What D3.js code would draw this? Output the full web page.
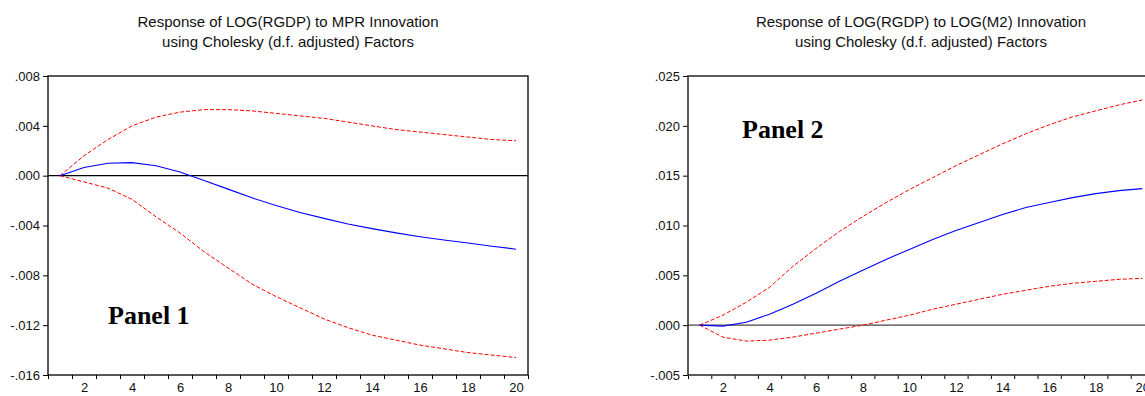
<html>
<meta charset="utf-8">
<title>Impulse responses of LOG(RGDP)</title>
<style>
  body { margin: 0; background: #fff; }
</style>
<div id="chartContainer"></div>
<script src="https://d3js.org/d3.v7.min.js"></script>
<script type="text/javascript">
// periods 1..20
var periods = d3.range(1, 21);

// Panel 1: response to MPR innovation
var mprResponse = [0, 0.00065, 0.00100, 0.00105, 0.00080, 0.00030, -0.00038, -0.00108, -0.00178, -0.00240,
                   -0.00295, -0.00343, -0.00388, -0.00425, -0.00459, -0.00490, -0.00517, -0.00540, -0.00566, -0.00590];
var mprUpper = [0, 0.0016, 0.0029, 0.0040, 0.0047, 0.0051, 0.0053, 0.0053, 0.0052, 0.0050,
                0.0048, 0.0046, 0.0043, 0.0040, 0.0037, 0.0035, 0.0033, 0.0031, 0.0029, 0.0028];
var mprLower = [0, -0.0005, -0.0010, -0.0019, -0.0033, -0.0046, -0.0061, -0.0074, -0.0087, -0.0097,
                -0.0106, -0.0115, -0.0122, -0.0128, -0.0132, -0.0136, -0.0139, -0.0142, -0.0144, -0.0146];
var mprTicks = [0.008, 0.004, 0, -0.004, -0.008, -0.012, -0.016];

// Panel 2: response to LOG(M2) innovation
var m2Response = [0, -0.0001, 0.0003, 0.0011, 0.0021, 0.0032, 0.0044, 0.0055, 0.0066, 0.0076,
                  0.0086, 0.0095, 0.0103, 0.0111, 0.0118, 0.0123, 0.0128, 0.0132, 0.0135, 0.0137];
var m2Upper = [0, 0.0010, 0.0023, 0.0038, 0.0059, 0.0077, 0.0094, 0.0109, 0.0123, 0.0136,
               0.0148, 0.0160, 0.0171, 0.0182, 0.0192, 0.0201, 0.0209, 0.0215, 0.0221, 0.0226];
var m2Lower = [0, -0.0012, -0.0016, -0.0015, -0.0012, -0.0008, -0.0004, 0.0000, 0.0005, 0.0010,
               0.0016, 0.0021, 0.0026, 0.0031, 0.0035, 0.0039, 0.0042, 0.0044, 0.0046, 0.0047];
var m2Ticks = [0.025, 0.020, 0.015, 0.010, 0.005, 0, -0.005];

var xLabels = [2, 4, 6, 8, 10, 12, 14, 16, 18, 20];

var svg = d3.select("#chartContainer").append("svg")
  .attr("width", 1145)
  .attr("height", 396);

function fmt(v) {
  var s = Math.abs(v).toFixed(3).slice(1);
  return (v < 0 ? "-" : "") + s;
}

function drawPanel(p) {
  var top = 76, bottom = 375;
  var x = d3.scaleLinear().domain([0.5, 20.5]).range([p.left, p.right]);
  var y = d3.scaleLinear().domain(d3.extent(p.ticks)).range([bottom, top]);
  var g = svg.append("g");

  // title
  g.append("text")
    .attr("x", (p.left + p.right) / 2)
    .attr("y", 27)
    .style("text-anchor", "middle")
    .style("font-family", "Liberation Sans, Arial")
    .style("font-size", "15px")
    .style("fill", "#111")
    .text(p.title);
  g.append("text")
    .attr("x", (p.left + p.right) / 2)
    .attr("y", 47)
    .style("text-anchor", "middle")
    .style("font-family", "Liberation Sans, Arial")
    .style("font-size", "15px")
    .style("fill", "#111")
    .text("using Cholesky (d.f. adjusted) Factors");

  // y axis
  var yAx = g.append("g")
    .attr("transform", "translate(" + p.left + ",0)")
    .call(d3.axisLeft(y).tickValues(p.ticks).tickSize(5).tickPadding(3).tickFormat(fmt));
  yAx.select(".domain").remove();
  yAx.selectAll("text")
    .style("font-family", "Liberation Sans, Arial")
    .style("font-size", "13px")
    .style("fill", "#111");

  // x ticks at period boundaries, labels at band centres
  var xAx = g.append("g")
    .attr("transform", "translate(0," + bottom + ")")
    .call(d3.axisBottom(x).tickValues(d3.range(0.5, 21, 1)).tickSize(4).tickFormat(""));
  xAx.select(".domain").remove();
  var xLab = g.append("g")
    .attr("transform", "translate(0," + bottom + ")")
    .call(d3.axisBottom(x).tickValues(xLabels).tickSize(0).tickPadding(8));
  xLab.select(".domain").remove();
  xLab.selectAll("text")
    .style("font-family", "Liberation Sans, Arial")
    .style("font-size", "13px")
    .style("fill", "#111");

  // zero line
  g.append("line")
    .attr("x1", p.left).attr("x2", p.right)
    .attr("y1", y(0)).attr("y2", y(0))
    .style("stroke", p.zeroColor)
    .style("stroke-width", 1.2);

  var line = d3.line()
    .x(function (d, i) { return x(periods[i]); })
    .y(function (d) { return y(d); });

  [p.upper, p.lower].forEach(function (band) {
    g.append("path")
      .attr("d", line(band))
      .style("fill", "none")
      .style("stroke", "#ff0000")
      .style("stroke-width", 1)
      .style("stroke-dasharray", "4,2");
  });
  g.append("path")
    .attr("d", line(p.response))
    .style("fill", "none")
    .style("stroke", "#0000ff")
    .style("stroke-width", 1.1);

  // frame
  g.append("rect")
    .attr("x", p.left).attr("y", top)
    .attr("width", p.right - p.left).attr("height", bottom - top)
    .style("fill", "none")
    .style("stroke", p.frameColor)
    .style("stroke-width", p.frameWidth);

  g.append("text")
    .attr("x", p.labelX)
    .attr("y", p.labelY)
    .style("font-family", "Liberation Serif, Times New Roman")
    .style("font-weight", "bold")
    .style("font-size", "26px")
    .style("fill", "#000")
    .text(p.label);
}

drawPanel({
  left: 48, right: 528,
  title: "Response of LOG(RGDP) to MPR Innovation",
  ticks: mprTicks,
  response: mprResponse, upper: mprUpper, lower: mprLower,
  zeroColor: "#000", frameColor: "#000", frameWidth: 1.3,
  label: "Panel 1", labelX: 108, labelY: 324
});

drawPanel({
  left: 688, right: 1154,
  title: "Response of LOG(RGDP) to LOG(M2) Innovation",
  ticks: m2Ticks,
  response: m2Response, upper: m2Upper, lower: m2Lower,
  zeroColor: "#444", frameColor: "#333", frameWidth: 1.6,
  label: "Panel 2", labelX: 742, labelY: 138
});
</script>
</html>
